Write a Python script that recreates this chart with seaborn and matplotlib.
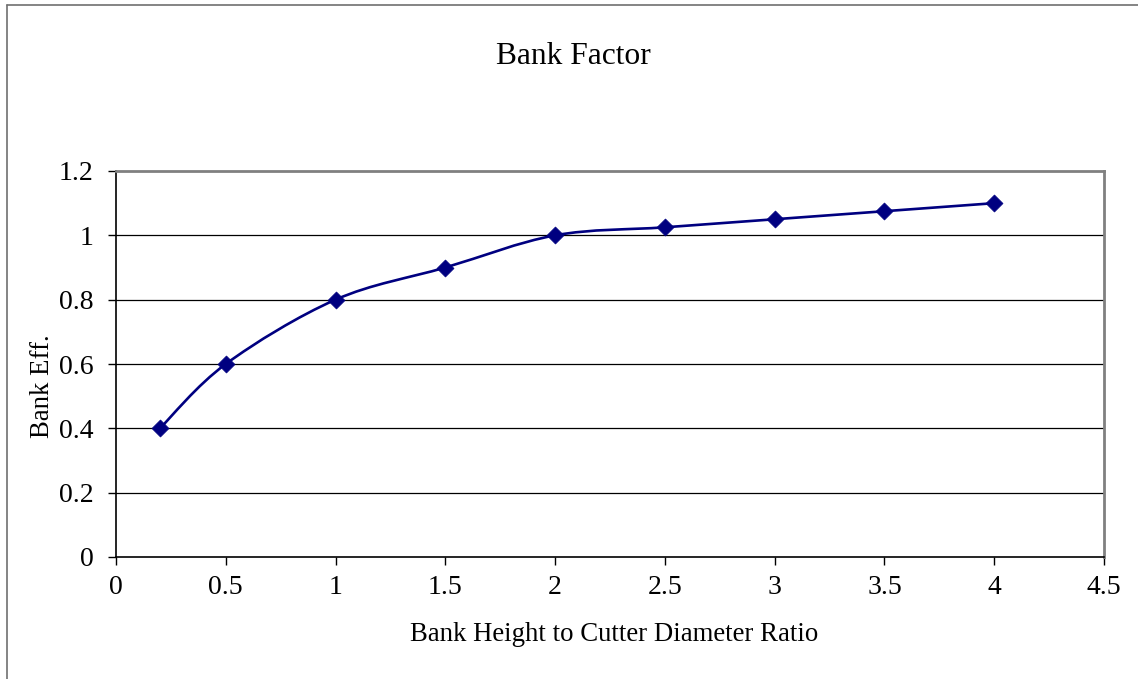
import numpy as np
import matplotlib
matplotlib.use("Agg")
import matplotlib.pyplot as plt
from matplotlib.path import Path
from matplotlib.patches import PathPatch
from matplotlib.lines import Line2D
import seaborn as sns
import pandas as pd

# --- data ---
ratio = [0.2, 0.5, 1.0, 1.5, 2.0, 2.5, 3.0, 3.5, 4.0]
bank_eff = [0.4, 0.6, 0.8, 0.9, 1.0, 1.025, 1.05, 1.075, 1.1]
x_ticks = [0, 0.5, 1, 1.5, 2, 2.5, 3, 3.5, 4, 4.5]
y_ticks = [0, 0.2, 0.4, 0.6, 0.8, 1.0, 1.2]
x_tick_labels = ["0", "0.5", "1", "1.5", "2", "2.5", "3", "3.5", "4", "4.5"]
y_tick_labels = ["0", "0.2", "0.4", "0.6", "0.8", "1", "1.2"]

NAVY = "#000080"


def smooth_path(xs, ys):
    # Excel-style smoothed line: cubic bezier segments through each point
    pts = np.column_stack([xs, ys])
    n = len(pts)
    verts = [tuple(pts[0])]
    codes = [Path.MOVETO]
    for i in range(n - 1):
        p0 = pts[i - 1] if i > 0 else pts[i]
        p1 = pts[i]
        p2 = pts[i + 1]
        p3 = pts[i + 2] if i + 2 < n else pts[i + 1]
        c1 = p1 + (p2 - p0) / 6.0
        c2 = p2 - (p3 - p1) / 6.0
        verts += [tuple(c1), tuple(c2), tuple(p2)]
        codes += [Path.CURVE4] * 3
    return Path(verts, codes)


def main():
    sns.set_theme(style="white")
    plt.rcParams["font.family"] = ["Liberation Serif", "DejaVu Serif"]
    plt.rcParams["text.color"] = "black"
    plt.rcParams["axes.labelcolor"] = "black"
    plt.rcParams["xtick.color"] = "black"
    plt.rcParams["ytick.color"] = "black"

    df = pd.DataFrame({"ratio": ratio, "eff": bank_eff})

    fig = plt.figure(figsize=(11.38, 6.79), dpi=100)
    ax = fig.add_axes([116 / 1138, 1 - 557 / 679, 988 / 1138, 386 / 679])

    # smoothed connecting line
    ax.add_patch(PathPatch(smooth_path(df["ratio"].values, df["eff"].values),
                           facecolor="none", edgecolor=NAVY, lw=1.9, zorder=3))
    sns.scatterplot(data=df, x="ratio", y="eff", marker="D", s=75,
                    color=NAVY, edgecolor=NAVY, linewidth=0.5, ax=ax, zorder=4)

    ax.set_xlim(0, 4.5)
    ax.set_ylim(0, 1.2)
    ax.set_xticks(x_ticks)
    ax.set_xticklabels(x_tick_labels)
    ax.set_yticks(y_ticks)
    ax.set_yticklabels(y_tick_labels)

    for y in y_ticks[1:-1]:
        ax.axhline(y, color="black", lw=0.9, zorder=1)

    for side in ["left", "bottom"]:
        ax.spines[side].set_color("black")
        ax.spines[side].set_linewidth(1.2)
    for side in ["top", "right"]:
        ax.spines[side].set_color("#808080")
        ax.spines[side].set_linewidth(2.0)

    ax.tick_params(axis="both", which="major", direction="out", length=6,
                   width=1, color="black", labelcolor="black", labelsize=20,
                   bottom=True, left=True)
    ax.tick_params(axis="y", pad=10)
    ax.tick_params(axis="x", pad=7)

    ax.set_xlabel("Bank Height to Cutter Diameter Ratio", fontsize=19.3,
                  color="black")
    ax.set_ylabel("Bank Eff.", fontsize=19.3, color="black")
    ax.xaxis.set_label_coords(0.5046, -0.168)
    ax.yaxis.set_label_coords(-0.062, 0.443)

    fig.text(573 / 1138, 1 - 56 / 679, "Bank Factor", fontsize=22.7,
             ha="center", va="center", color="black")

    # outer chart frame (only left and top edges fall inside the image)
    fig.add_artist(Line2D([7 / 1138, 7 / 1138], [0, 1 - 5 / 679],
                          transform=fig.transFigure, color="#707070", lw=1.2))
    fig.add_artist(Line2D([7 / 1138, 1], [1 - 5 / 679, 1 - 5 / 679],
                          transform=fig.transFigure, color="#707070", lw=1.2))

    fig.savefig("out.png", dpi=100, facecolor="white")


if __name__ == "__main__":
    main()
